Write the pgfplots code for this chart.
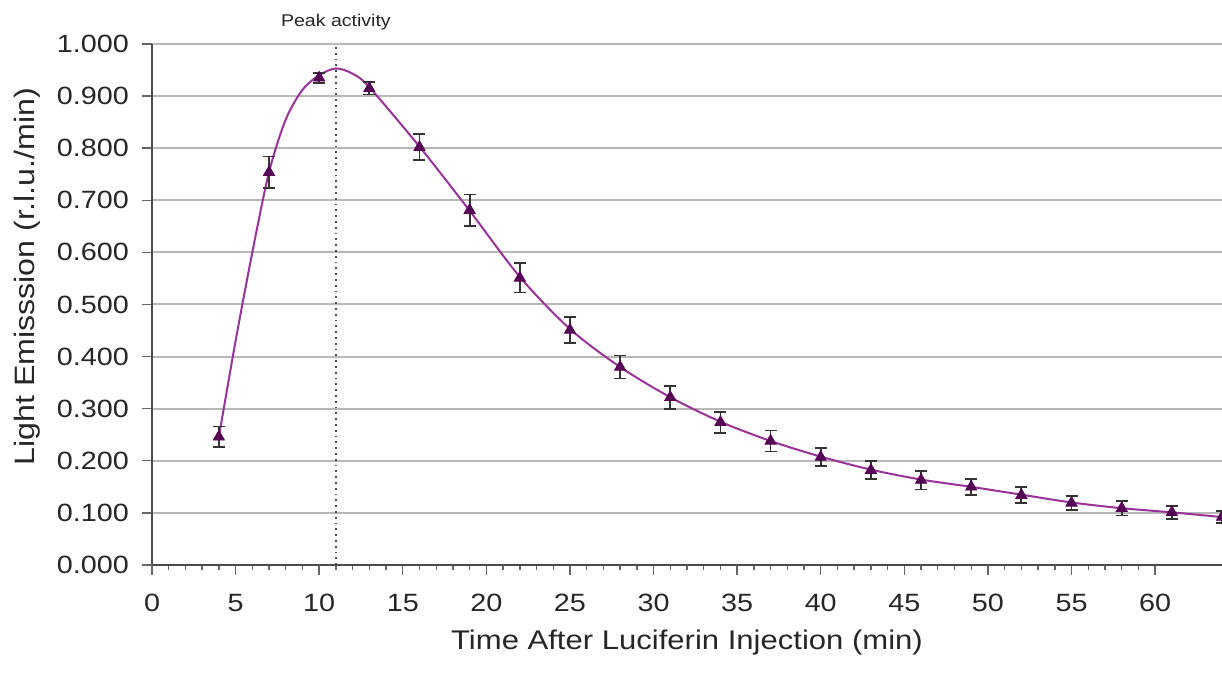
\documentclass[border=0pt]{standalone}
\usepackage{pgfplots}
\pgfplotsset{compat=1.18}
\usepackage{fontspec}
\setmainfont[FakeStretch=1.15]{Liberation Sans}
\definecolor{curve}{HTML}{993399}
\definecolor{mk}{HTML}{550055}
\begin{document}
\begin{tikzpicture}
\useasboundingbox (-76pt,-54.5pt) rectangle (535pt,282.5pt);
\begin{axis}[
  name=ax,
  at={(0,0)}, anchor=south west,
  scale only axis,
  width=535pt, height=260.5pt,
  xmin=0, xmax=64, ymin=0, ymax=1,
  axis x line=bottom, axis y line=left,
  axis line style={-, draw=black!70, line width=1pt},
  xtick={0,5,...,60}, minor x tick num=4,
  ytick={0,0.1,...,1.0},
  tick align=outside,
  major tick length=5pt, minor tick length=2.5pt,
  tick style={black!60, line width=0.7pt},
  ymajorgrids, grid style={black!28, line width=1pt},
  /pgf/number format/assume math mode=true,
  yticklabel style={/pgf/number format/fixed, /pgf/number format/zerofill, /pgf/number format/precision=3, xshift=-3pt},
  xticklabel style={yshift=-6pt},
  ticklabel style={font=\fontsize{12.5}{14}\selectfont, black!85},
  xlabel={Time After Luciferin Injection (min)},
  ylabel={Light Emisssion (r.l.u./min)},
  xlabel style={font=\fontsize{13.5}{15}\selectfont, black!85, at={(axis description cs:0.5,0)}, anchor=center, yshift=-39pt},
  ylabel style={font=\fontsize{14}{16}\selectfont, black!85, at={(axis description cs:-0.1168,0.553)}, anchor=center},
  clip=false,
]
\addplot[black!70, dotted, line width=0.9pt] coordinates {(11,0) (11,1)};
\node[anchor=center, font=\fontsize{8.5}{10}\selectfont, black!85, inner sep=0pt] at (axis cs:11,1) [yshift=11pt] {Peak activity};
\addplot[curve, line width=1pt, smooth, tension=0.5, no marks] coordinates {
(4,0.246)(5,0.43)(6,0.60)(7,0.754)(8,0.855)(9,0.912)(10,0.940)(11,0.953)(12,0.943)(13,0.917)
(16,0.803)(19,0.680)(22,0.553)(25,0.453)(28,0.380)(31,0.322)(34,0.275)(37,0.238)(40,0.208)
(43,0.183)(46,0.164)(49,0.150)(52,0.135)(55,0.120)(58,0.109)(61,0.101)(64,0.092)};
\addplot[only marks, mark=triangle*, mark size=3.2pt, mk,
  error bars/.cd, y dir=both, y explicit,
  error bar style={black!80, line width=0.9pt},
  error mark options={black!80, line width=0.9pt, mark size=3pt, rotate=90}]
  coordinates {
(4,0.246) +- (0,0.02)
(7,0.754) +- (0,0.03)
(10,0.935) +- (0,0.01)
(13,0.915) +- (0,0.012)
(16,0.802) +- (0,0.025)
(19,0.681) +- (0,0.03)
(22,0.551) +- (0,0.028)
(25,0.451) +- (0,0.025)
(28,0.380) +- (0,0.022)
(31,0.322) +- (0,0.022)
(34,0.274) +- (0,0.02)
(37,0.238) +- (0,0.02)
(40,0.207) +- (0,0.017)
(43,0.182) +- (0,0.017)
(46,0.163) +- (0,0.018)
(49,0.150) +- (0,0.015)
(52,0.134) +- (0,0.015)
(55,0.119) +- (0,0.013)
(58,0.109) +- (0,0.014)
(61,0.101) +- (0,0.012)
(64,0.092) +- (0,0.012)
};
\end{axis}
\end{tikzpicture}
\end{document}
